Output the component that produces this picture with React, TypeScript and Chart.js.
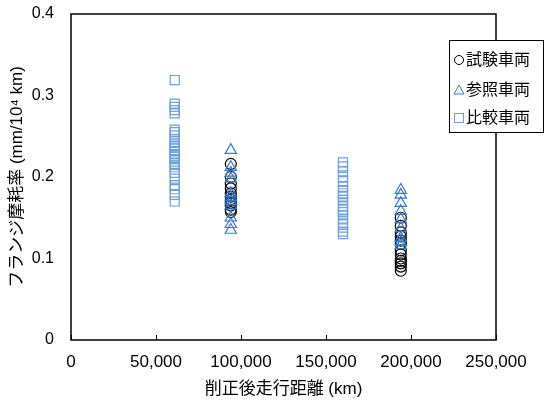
import React, { useEffect, useRef } from 'react';
import { Chart, registerables } from 'chart.js';

Chart.register(...registerables);

// ---- data ----
const xTickValues = [0, 50000, 100000, 150000, 200000, 250000];
const yTickValues = [0, 0.1, 0.2, 0.3, 0.4];

const legendLabels = ['試験車両', '参照車両', '比較車両'];

// 試験車両 (circles)
const testX1 = 94000;
const testVals1 = [0.216, 0.2, 0.192, 0.186, 0.18, 0.176, 0.172, 0.168, 0.165, 0.16, 0.157];
const testX2 = 194000;
const testVals2 = [0.15, 0.14, 0.132, 0.127, 0.122, 0.118, 0.11, 0.105, 0.1, 0.097, 0.094, 0.09, 0.085];

// 参照車両 (triangles)
const refX1 = 94000;
const refVals1 = [0.233, 0.212, 0.205, 0.198, 0.18, 0.175, 0.17, 0.165, 0.15, 0.142, 0.135];
const refX2 = 194000;
const refVals2 = [0.184, 0.178, 0.168, 0.158, 0.148, 0.137, 0.125, 0.12, 0.116];

// 比較車両 (squares)
const cmpX1 = 61000;
const cmpVals1 = [0.319, 0.29, 0.286, 0.282, 0.278, 0.258, 0.255, 0.251, 0.246, 0.242, 0.238, 0.236, 0.232, 0.228, 0.225, 0.222, 0.219, 0.215, 0.212, 0.205, 0.198, 0.19, 0.185, 0.178, 0.17];
const cmpX2 = 160000;
const cmpVals2 = [0.218, 0.213, 0.207, 0.2, 0.195, 0.188, 0.183, 0.18, 0.176, 0.172, 0.168, 0.164, 0.16, 0.157, 0.153, 0.148, 0.143, 0.138, 0.133, 0.13];

const xTitle = '削正後走行距離 (km)';
const yTitle = 'フランジ摩耗率 (mm/10⁴ km)';

const COLOR_TEST = '#000000';
const COLOR_REF = '#3a78c9';
const COLOR_CMP = '#6fa0dc';

const FONT = "'Liberation Sans', 'Noto Sans CJK JP', sans-serif";

const pts = (x: number, vals: number[]) => vals.map((v) => ({ x, y: v }));

const framePlugin = {
  id: 'frameAndLegend',
  afterDatasetsDraw(chart: any) {
    const { ctx, chartArea } = chart;
    const { left, right, top, bottom } = chartArea;
    ctx.save();
    ctx.strokeStyle = '#000';
    ctx.lineWidth = 1.5;
    ctx.strokeRect(left, top, right - left, bottom - top);
    // inward x ticks
    const xs = chart.scales.x;
    ctx.lineWidth = 1;
    ctx.beginPath();
    xTickValues.forEach((v) => {
      const px = Math.round(xs.getPixelForValue(v)) + 0.5;
      ctx.moveTo(px, bottom);
      ctx.lineTo(px, bottom - 5);
    });
    ctx.stroke();
    ctx.restore();
  },
  afterDraw(chart: any) {
    const { ctx, chartArea } = chart;
    const bx = chartArea.right - 47;
    const by = chartArea.top + 26;
    const bw = 94;
    const bh = 92;
    ctx.save();
    ctx.fillStyle = '#fff';
    ctx.fillRect(bx, by, bw, bh);
    ctx.strokeStyle = '#000';
    ctx.lineWidth = 1;
    ctx.strokeRect(bx + 0.5, by + 0.5, bw, bh);
    const rows = [by + 20, by + 50, by + 78];
    const mx = bx + 10;
    ctx.lineWidth = 1;
    // circle
    ctx.strokeStyle = COLOR_TEST;
    ctx.beginPath();
    ctx.arc(mx, rows[0], 4.5, 0, Math.PI * 2);
    ctx.stroke();
    // triangle
    ctx.strokeStyle = COLOR_REF;
    ctx.beginPath();
    ctx.moveTo(mx, rows[1] - 5);
    ctx.lineTo(mx + 5, rows[1] + 4);
    ctx.lineTo(mx - 5, rows[1] + 4);
    ctx.closePath();
    ctx.stroke();
    // square
    ctx.strokeStyle = COLOR_CMP;
    ctx.strokeRect(mx - 4.5, rows[2] - 4.5, 9, 9);
    ctx.fillStyle = '#000';
    ctx.font = `16px ${FONT}`;
    ctx.textBaseline = 'middle';
    ctx.textAlign = 'left';
    legendLabels.forEach((t, i) => ctx.fillText(t, mx + 7, rows[i] + 1));
    ctx.restore();
  },
};

export default function App() {
  const ref = useRef<HTMLCanvasElement | null>(null);

  useEffect(() => {
    if (!ref.current) return;
    Chart.defaults.font.family = FONT;
    Chart.defaults.color = '#000';
    const chart = new Chart(ref.current, {
      type: 'scatter',
      data: {
        datasets: [
          {
            label: legendLabels[0],
            data: [...pts(testX1, testVals1), ...pts(testX2, testVals2)],
            pointStyle: 'circle',
            pointRadius: 5.5,
            borderColor: COLOR_TEST,
            backgroundColor: 'transparent',
            borderWidth: 1.2,
            order: 1,
          },
          {
            label: legendLabels[1],
            data: [...pts(refX1, refVals1), ...pts(refX2, refVals2)],
            pointStyle: 'triangle',
            pointRadius: 6.5,
            borderColor: COLOR_REF,
            backgroundColor: 'transparent',
            borderWidth: 1.2,
            order: 0,
          },
          {
            label: legendLabels[2],
            data: [...pts(cmpX1, cmpVals1), ...pts(cmpX2, cmpVals2)],
            pointStyle: 'rect',
            pointRadius: 6.4,
            borderColor: COLOR_CMP,
            backgroundColor: 'transparent',
            borderWidth: 1.2,
            order: 2,
          },
        ],
      },
      options: {
        responsive: false,
        animation: false,
        layout: { padding: { left: 0, right: 52, top: 14, bottom: 0 } },
        plugins: { legend: { display: false }, tooltip: { enabled: false } },
        scales: {
          x: {
            type: 'linear',
            min: 0,
            max: 250000,
            afterFit: (s: any) => {
              s.height = 60;
              s.paddingLeft = 0;
              s.paddingRight = 0;
            },
            afterBuildTicks: (s: any) => {
              s.ticks = xTickValues.map((v) => ({ value: v }));
            },
            grid: { display: false, drawTicks: false },
            border: { display: false },
            ticks: {
              padding: 12,
              font: { size: 17 },
              color: '#000',
              maxRotation: 0,
              callback: (v: any) => Number(v).toLocaleString('en-US'),
            },
            title: {
              display: true,
              text: xTitle,
              font: { size: 17 },
              color: '#000',
              padding: { top: 0, bottom: 0 },
            },
          },
          y: {
            type: 'linear',
            min: 0,
            max: 0.4,
            afterFit: (s: any) => {
              s.width = 71;
              s.paddingTop = 0;
              s.paddingBottom = 0;
            },
            afterBuildTicks: (s: any) => {
              s.ticks = yTickValues.map((v) => ({ value: v }));
            },
            grid: { display: false, drawTicks: false },
            border: { display: false },
            ticks: {
              padding: 17,
              font: { size: 16 },
              color: '#000',
              callback: (v: any) => (Number(v) === 0 ? '0' : Number(v).toFixed(1)),
            },
            title: {
              display: true,
              text: yTitle,
              font: { size: 17 },
              color: '#000',
              padding: { top: 7, bottom: 0 },
            },
          },
        },
      },
      plugins: [framePlugin],
    });
    return () => chart.destroy();
  }, []);

  return (
    <div style={{ position: 'absolute', left: 0, top: 0, width: 548, height: 400, background: '#fff' }}>
      <canvas ref={ref} width={548} height={400} style={{ display: 'block', width: 548, height: 400 }} />
    </div>
  );
}
